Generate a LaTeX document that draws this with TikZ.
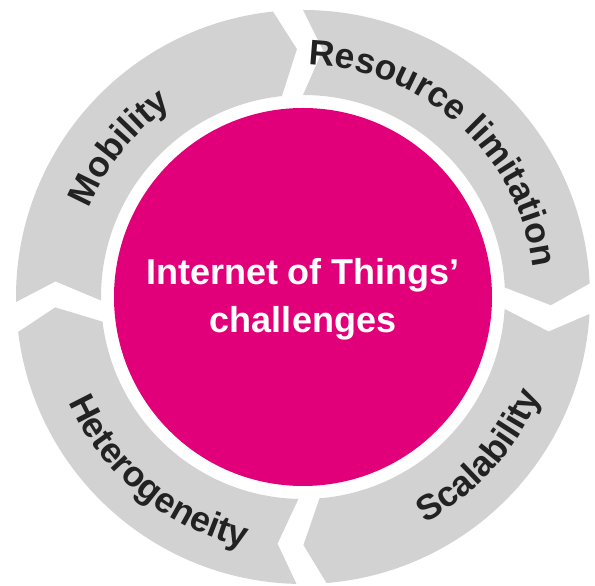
\documentclass[tikz,border=0pt]{standalone}
\usepackage{fontspec}
\setmainfont{Liberation Sans}
\usetikzlibrary{decorations.text}
\definecolor{ringgray}{HTML}{D2D2D2}
\definecolor{iotpink}{HTML}{E2007A}
\definecolor{labelgray}{HTML}{222222}
\newcommand{\ringfont}{\bfseries\fontsize{35.5}{40}\selectfont}
\tikzset{
  ringseg/.style={fill=ringgray},
  ringlabel/.style={decorate, decoration={text along path, text align=center, text color=labelgray, text={|\ringfont|#1}}},
  centertext/.style={text=white, font=\bfseries\fontsize{36}{48}\selectfont, align=center}
}
\begin{document}
\begin{tikzpicture}[x=1pt,y=1pt]
\useasboundingbox (0,0) rectangle (595,586);
\begin{scope}[shift={(303,289)}]
  \foreach \L/\T in {96/181, 2.7/90, 274.7/356.6, 187/268.7} {
    \fill[ringseg] (\L:287pt) arc[start angle=\L, end angle=\T, radius=287pt]
      -- ({\T-4.6}:248pt) -- (\T:202pt)
      arc[start angle=\T, end angle=\L, radius=202pt]
      -- ({\L-4.6}:248pt) -- cycle;
  }
  \fill[iotpink] (0,0) circle[radius=189pt];
  \node[centertext] (center) at (0,-2) {Internet of Things’\\challenges};
  % clockwise labels (tops outward)
  \path[ringlabel=Mobility] (186:232pt) arc[start angle=186, end angle=96, radius=232pt];
  \path[ringlabel=Resource limitation] (98:232pt) arc[start angle=98, end angle=-2, radius=232pt];
  % counterclockwise labels (tops inward)
  \path[ringlabel=Heterogeneity] (185.5:257pt) arc[start angle=185.5, end angle=275.5, radius=257pt];
  \path[ringlabel=Scalability] (273:257pt) arc[start angle=273, end angle=363, radius=257pt];
\end{scope}
\end{tikzpicture}
\end{document}
